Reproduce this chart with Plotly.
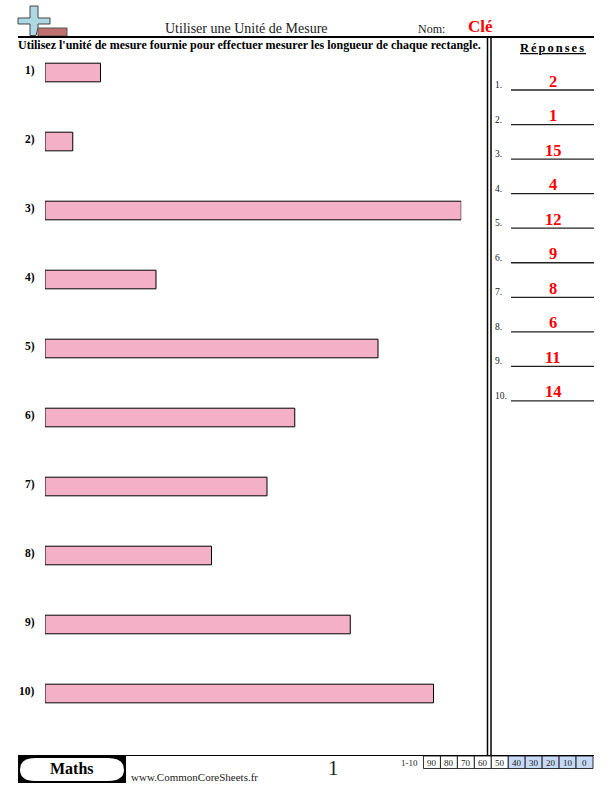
import plotly.graph_objects as go

# Longueurs des rectangles (en unités), aussi les réponses
longueurs = [2, 1, 15, 4, 12, 9, 8, 6, 11, 14]
numeros = [1, 2, 3, 4, 5, 6, 7, 8, 9, 10]
notes = [90, 80, 70, 60, 50, 40, 30, 20, 10, 0]
notes_bleues = [40, 30, 20, 10, 0]

W = 612
H = 792
SERIF = "Liberation Serif"


def px(x):
    return x / W


def py(y):
    return 1 - y / H


def ligne(x0, y0, x1, y1, largeur=1.0, couleur="black"):
    return dict(type="line", xref="paper", yref="paper", x0=px(x0), y0=py(y0), x1=px(x1), y1=py(y1),
                line=dict(color=couleur, width=largeur), layer="above")


def boite(x0, y0, x1, y1, fond, bord="black", largeur=1.0):
    return dict(type="rect", xref="paper", yref="paper", x0=px(x0), y0=py(y0), x1=px(x1), y1=py(y1),
                fillcolor=fond, line=dict(color=bord, width=largeur), layer="above")


def texte(x, y, t, taille, couleur="black", gras=False, ancre="center", police=SERIF):
    if gras:
        t = "<b>" + t + "</b>"
    return dict(xref="paper", yref="paper", x=px(x), y=py(y), text=t, showarrow=False,
                xanchor=ancre, yanchor="middle", borderpad=0, borderwidth=0,
                font=dict(family=police, size=taille, color=couleur))


fig = go.Figure()

# Rectangles à mesurer
fig.add_trace(go.Bar(
    x=longueurs,
    y=numeros,
    orientation="h",
    width=0.27,
    marker=dict(color="#f3b0c6", line=dict(color="black", width=1)),
    hoverinfo="skip",
))

shapes = []
annotations = []

# Icone en haut a gauche
shapes.append(dict(type="path", xref="paper", yref="paper", layer="above",
                   path="M %f,%f L %f,%f L %f,%f L %f,%f L %f,%f L %f,%f L %f,%f L %f,%f L %f,%f L %f,%f L %f,%f L %f,%f L %f,%f Z" % (
                       px(30), py(6), px(38), py(6), px(38), py(18), px(50), py(18), px(50), py(24), px(38), py(24),
                       px(38), py(28), px(36), py(35.5), px(30), py(35.5), px(30), py(24), px(18), py(24), px(18), py(18),
                       px(30), py(18)),
                   fillcolor="#aed8e4", line=dict(color="#444444", width=1)))
shapes.append(boite(38, 28, 67, 36, "#c1706e", "#555555", 1))

# Cadre de la page
shapes.append(ligne(18, 37, 594, 37, 2))
shapes.append(ligne(487.5, 37, 487.5, 755, 1.5))
shapes.append(ligne(491, 37, 491, 755, 1.5))
shapes.append(ligne(18, 755.5, 594, 755.5, 1))

annotations.append(texte(246, 28, "Utiliser une Unité de Mesure", 14, "#222222"))
annotations.append(texte(418, 28.5, "Nom:", 12, "#222222", ancre="left"))
annotations.append(texte(468, 27, "Clé", 17, "#ff0000", True, "left"))
annotations.append(texte(18, 45.5, "Utilisez l'unité de mesure fournie pour effectuer mesurer les longueur de chaque rectangle.",
                         12, "black", True, "left"))
annotations.append(texte(553, 48, "<u>Réponses</u>", 12.5, "black", True))

# Numeros de questions et colonne des reponses
for i, n in enumerate(numeros):
    annotations.append(dict(xref="x", yref="y", x=0, y=n, xshift=-8, yshift=2, text="<b>%d)</b>" % n,
                            showarrow=False, xanchor="right", yanchor="middle",
                            font=dict(family=SERIF, size=11.5, color="black")))
    y_rep = 90 + i * 34.55
    shapes.append(ligne(511, y_rep, 594, y_rep, 1.3, "#222222"))
    annotations.append(texte(494.5, y_rep - 5, "%d." % n, 9.5, "#222222", ancre="left"))
    annotations.append(texte(553, y_rep - 9, str(longueurs[i]), 16.5, "#ff0000", True))

# Pied de page
shapes.append(boite(18, 756, 126, 783, "black", "black", 0))
shapes.append(dict(type="path", xref="paper", yref="paper", layer="above",
                   path="M %f,%f L %f,%f Q %f,%f %f,%f Q %f,%f %f,%f L %f,%f Q %f,%f %f,%f Q %f,%f %f,%f Z" % (
                       px(35), py(758), px(108), py(758), px(124), py(758), px(124), py(769.5), px(124), py(781),
                       px(108), py(781), px(35), py(781), px(20), py(781), px(20), py(769.5), px(20), py(758), px(35), py(758)),
                   fillcolor="white", line=dict(width=0)))
annotations.append(texte(72, 768.5, "Maths", 16, "black", True))
annotations.append(texte(131, 777, "www.CommonCoreSheets.fr", 11, "#222222", ancre="left"))
annotations.append(texte(333, 768, "1", 21, "#222222"))
annotations.append(texte(410, 763, "1-10", 9, "#222222"))

for i, note in enumerate(notes):
    x0 = 423.5 + i * 16.95
    fond = "#c6d9f5" if note in notes_bleues else "white"
    shapes.append(boite(x0, 756, x0 + 16.95, 768.5, fond, "black", 0.8))
    annotations.append(texte(x0 + 8.5, 762.5, str(note), 9, "#222222"))

fig.update_layout(
    width=W,
    height=H,
    margin=dict(l=0, r=0, t=0, b=0),
    paper_bgcolor="white",
    plot_bgcolor="white",
    showlegend=False,
    shapes=shapes,
    annotations=annotations,
    # 15 unités = 416 px, a partir de x=45
    xaxis=dict(domain=[45 / W, 461.25 / W], range=[0, 15], visible=False),
    # une ligne tous les 69 px, la premiere centree sur y=72.5
    yaxis=dict(domain=[1 - 728 / H, 1 - 38 / H], range=[10.5, 0.5], visible=False),
)

script = """
document.body.style.margin = '0';
document.querySelectorAll('.annotation-text').forEach(function (t) {
  if (t.textContent === 'Réponses') { t.style.letterSpacing = '2px'; }
});
"""
fig.write_html("out.html", config={"displayModeBar": False}, post_script=script)
